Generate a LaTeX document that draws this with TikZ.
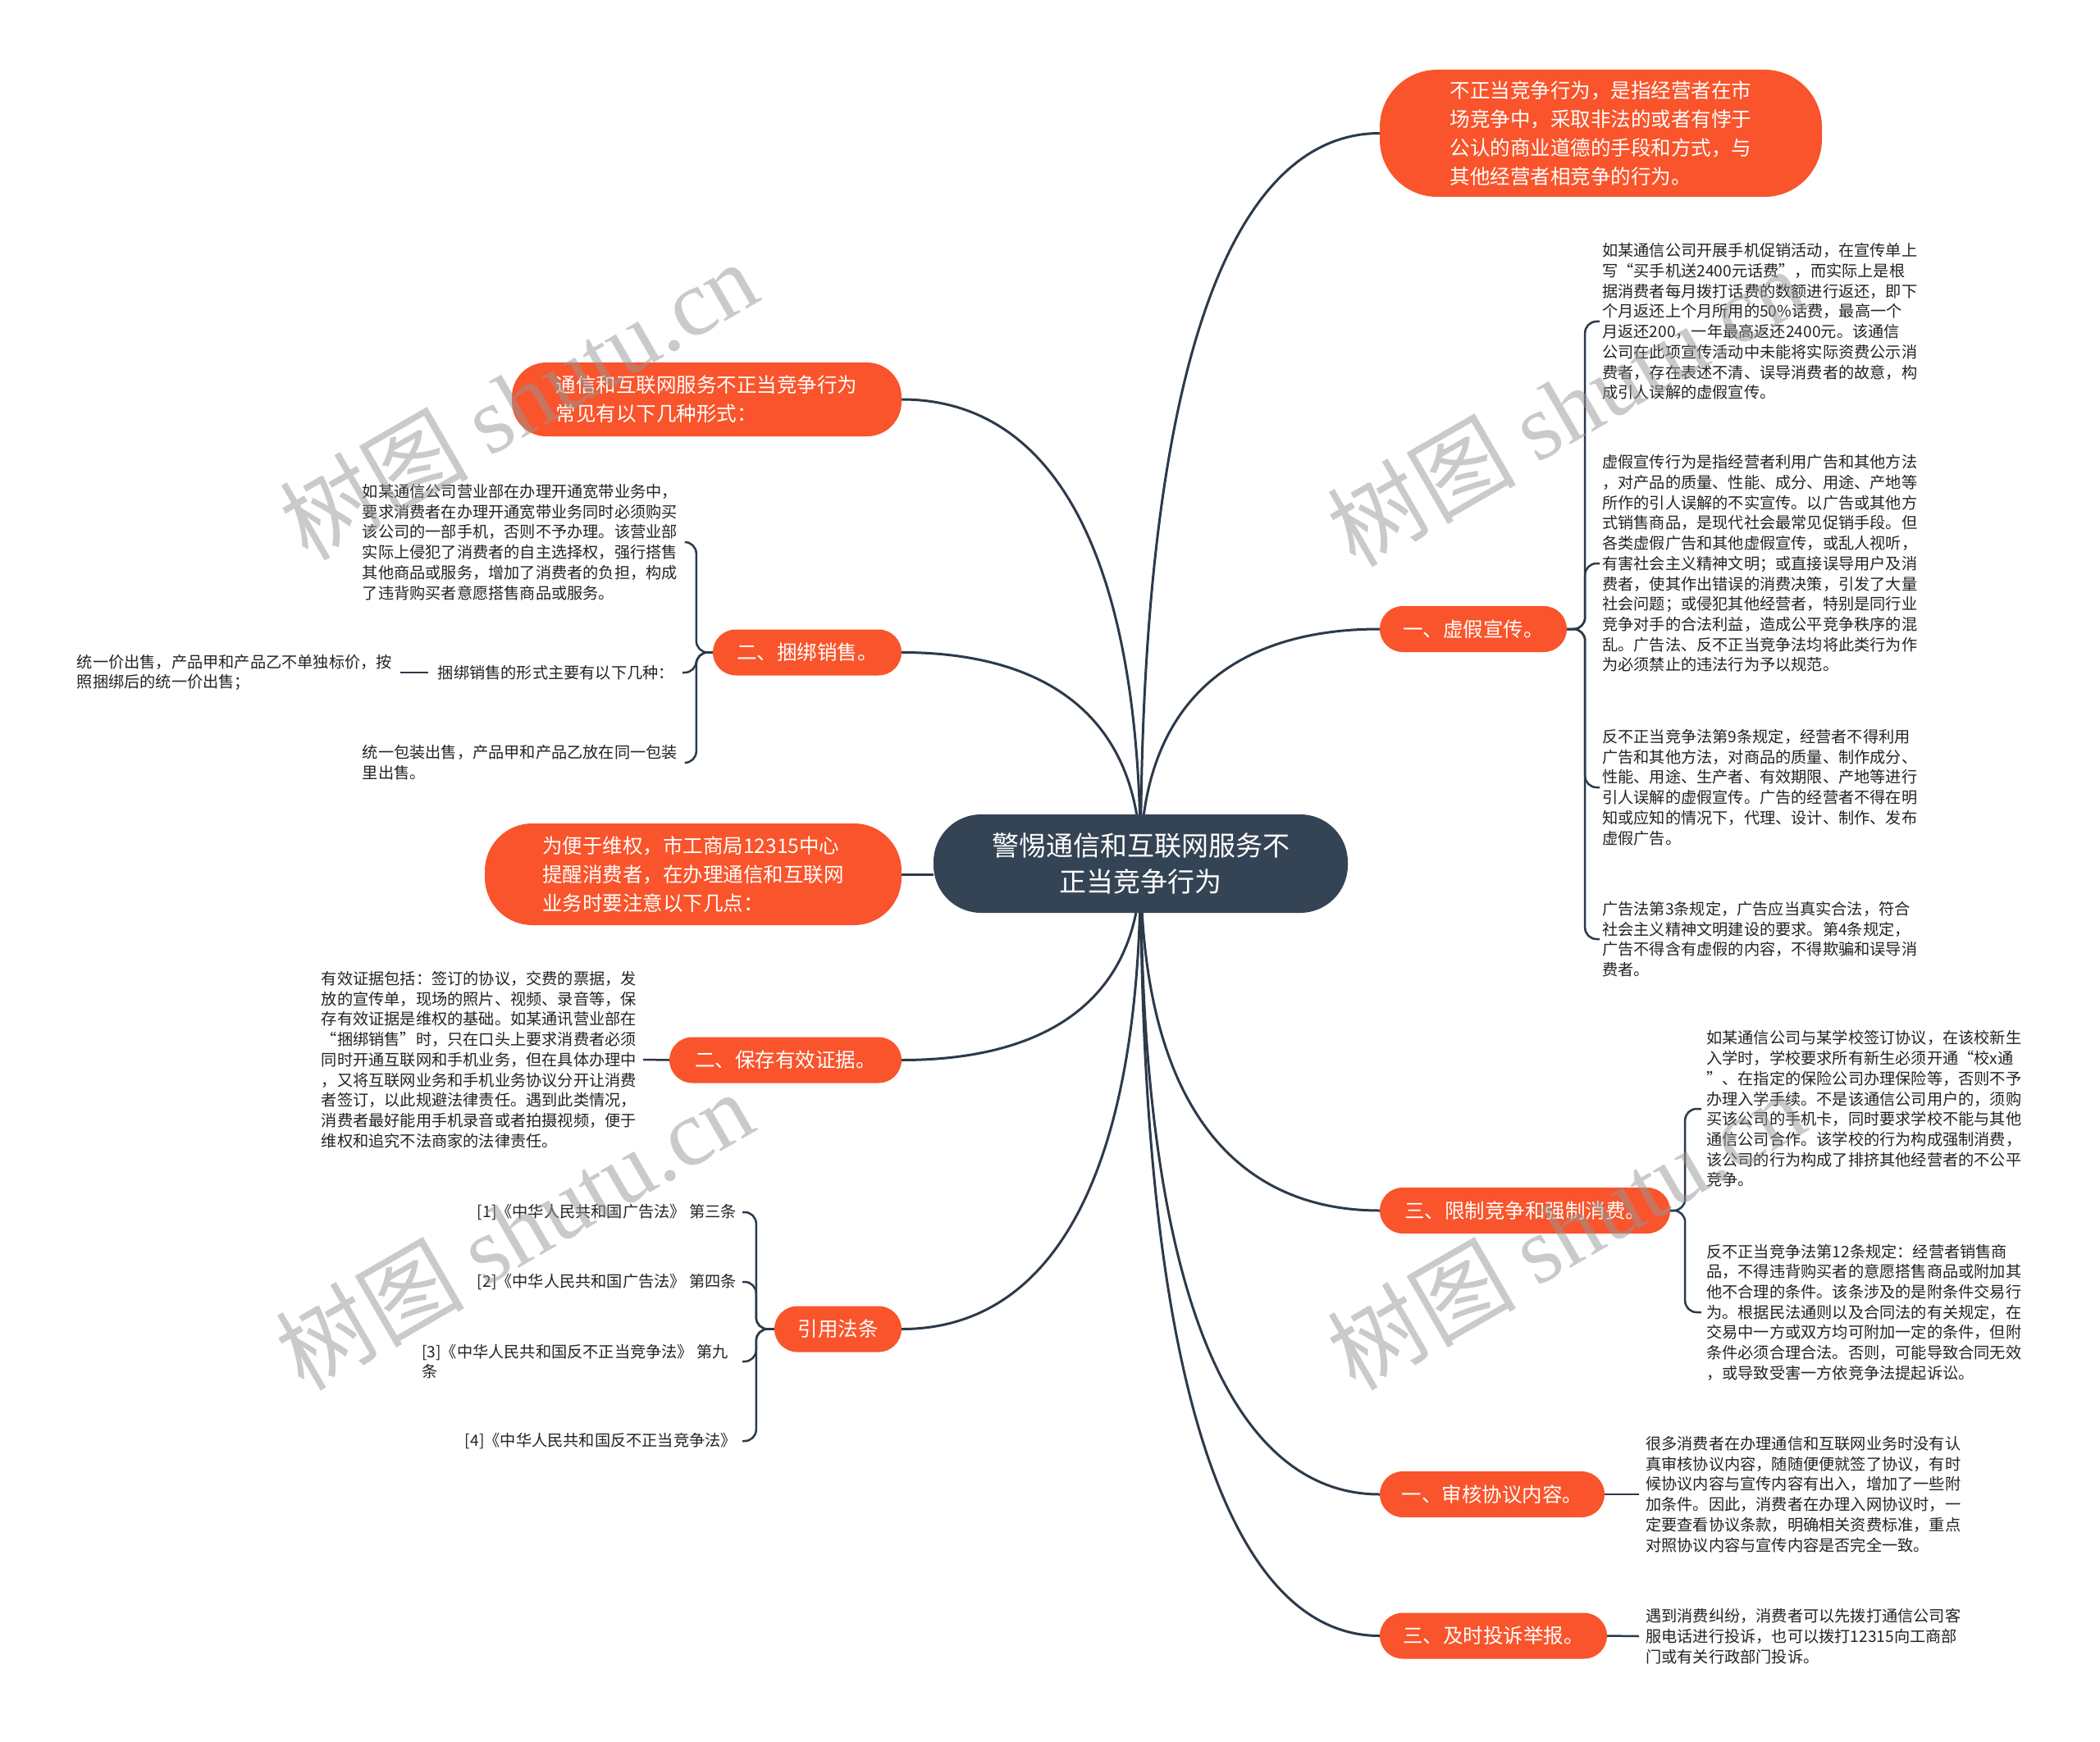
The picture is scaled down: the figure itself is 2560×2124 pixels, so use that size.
\documentclass[tikz,border=0pt]{standalone}
\usepackage{fontspec}
\setmainfont{Liberation Serif}
\newfontfamily\cjk{Noto Sans CJK SC}
\usetikzlibrary{calc}
\pgfdeclarelayer{bg}
\pgfsetlayers{bg,main}
\definecolor{orng}{RGB}{249,84,43}
\definecolor{rootc}{RGB}{52,68,84}
\definecolor{linec}{RGB}{44,58,74}
\definecolor{txt}{RGB}{35,35,35}
\definecolor{wm}{RGB}{150,150,150}
\tikzset{
 obox/.style={fill=orng, text=white, font=\cjk\fontsize{24.5}{35}\selectfont, align=left, inner sep=0pt},
 pill/.style={obox, minimum height=56pt, rounded corners=28pt},
 rootbox/.style={fill=rootc, text=white, font=\cjk\fontsize{33}{44}\selectfont, align=center, inner sep=0pt, minimum width=505pt, minimum height=120pt, rounded corners=58pt},
 ctext/.style={font=\cjk\fontsize{19.2}{24.7}\selectfont, text=txt, align=left, inner sep=0pt},
 branch/.style={draw=linec, line width=3pt, to path={.. controls ($(\tikztostart |- \tikztotarget)!0.3!(\tikztostart)$) and ($(\tikztotarget)!0.6!(\tikztostart |- \tikztotarget)$) .. (\tikztotarget)}},
 brace/.style={draw=linec, line width=2.5pt, rounded corners=14pt},
 wmark/.style={text=wm, opacity=0.5, rotate=30, anchor=south west, inner sep=0pt, font=\cjk\fontsize{115}{115}\selectfont}
}
\begin{document}
\begin{tikzpicture}[x=1pt,y=-1pt]
\useasboundingbox (0,0) rectangle (2560,2124);
\begin{pgfonlayer}{bg}
\fill[white] (0,0) rectangle (2560,2124);
\end{pgfonlayer}

% root
\node[rootbox] (root) at (1390.5,1053) {警惕通信和互联网服务不\\正当竞争行为};

% right main boxes
\node[obox, minimum width=539pt, minimum height=155pt, rounded corners=70pt] (T1) at (1951.5,162.5) {不正当竞争行为，是指经营者在市\\场竞争中，采取非法的或者有悖于\\公认的商业道德的手段和方式，与\\其他经营者相竞争的行为。};
\node[pill, minimum width=228pt] (R1) at (1796,767) {一、虚假宣传。};
\node[pill, minimum width=354pt] (R2) at (1859,1476) {三、限制竞争和强制消费。};
\node[pill, minimum width=274pt] (R3) at (1819,1822) {一、审核协议内容。};
\node[pill, minimum width=277pt] (R4) at (1820.5,1994.5) {三、及时投诉举报。};

% left main boxes
\node[obox, minimum width=475pt, minimum height=90pt, rounded corners=42pt] (L1) at (861.5,487) {通信和互联网服务不正当竞争行为\\常见有以下几种形式：};
\node[pill, minimum width=230pt] (L2) at (984,795.5) {二、捆绑销售。};
\node[obox, minimum width=508pt, minimum height=124pt, rounded corners=58pt] (L3) at (845,1066) {为便于维权，市工商局12315中心\\提醒消费者，在办理通信和互联网\\业务时要注意以下几点：};
\node[pill, minimum width=283pt] (L4) at (957.5,1292.5) {二、保存有效证据。};
\node[pill, minimum width=155pt] (L5) at (1021.5,1620.5) {引用法条};

% R1 children
\node[ctext, anchor=west] (r1a) at (1953,392) {如某通信公司开展手机促销活动，在宣传单上\\写“买手机送2400元话费”，而实际上是根\\据消费者每月拨打话费的数额进行返还，即下\\个月返还上个月所用的50\%话费，最高一个\\月返还200，一年最高返还2400元。该通信\\公司在此项宣传活动中未能将实际资费公示消\\费者，存在表述不清、误导消费者的故意，构\\成引人误解的虚假宣传。};
\node[ctext, anchor=west] (r1b) at (1953,687) {虚假宣传行为是指经营者利用广告和其他方法\\，对产品的质量、性能、成分、用途、产地等\\所作的引人误解的不实宣传。以广告或其他方\\式销售商品，是现代社会最常见促销手段。但\\各类虚假广告和其他虚假宣传，或乱人视听，\\有害社会主义精神文明；或直接误导用户及消\\费者，使其作出错误的消费决策，引发了大量\\社会问题；或侵犯其他经营者，特别是同行业\\竞争对手的合法利益，造成公平竞争秩序的混\\乱。广告法、反不正当竞争法均将此类行为作\\为必须禁止的违法行为予以规范。};
\node[ctext, anchor=west] (r1c) at (1953,960) {反不正当竞争法第9条规定，经营者不得利用\\广告和其他方法，对商品的质量、制作成分、\\性能、用途、生产者、有效期限、产地等进行\\引人误解的虚假宣传。广告的经营者不得在明\\知或应知的情况下，代理、设计、制作、发布\\虚假广告。};
\node[ctext, anchor=west] (r1d) at (1953,1145) {广告法第3条规定，广告应当真实合法，符合\\社会主义精神文明建设的要求。第4条规定，\\广告不得含有虚假的内容，不得欺骗和误导消\\费者。};

% R2 children
\node[ctext, anchor=west] (r2a) at (2080,1352) {如某通信公司与某学校签订协议，在该校新生\\入学时，学校要求所有新生必须开通“校x通\\”、在指定的保险公司办理保险等，否则不予\\办理入学手续。不是该通信公司用户的，须购\\买该公司的手机卡，同时要求学校不能与其他\\通信公司合作。该学校的行为构成强制消费，\\该公司的行为构成了排挤其他经营者的不公平\\竞争。};
\node[ctext, anchor=west] (r2b) at (2080,1600) {反不正当竞争法第12条规定：经营者销售商\\品，不得违背购买者的意愿搭售商品或附加其\\他不合理的条件。该条涉及的是附条件交易行\\为。根据民法通则以及合同法的有关规定，在\\交易中一方或双方均可附加一定的条件，但附\\条件必须合理合法。否则，可能导致合同无效\\，或导致受害一方依竞争法提起诉讼。};

% R3, R4 children
\node[ctext, anchor=west] (r3a) at (2006,1822) {很多消费者在办理通信和互联网业务时没有认\\真审核协议内容，随随便便就签了协议，有时\\候协议内容与宣传内容有出入，增加了一些附\\加条件。因此，消费者在办理入网协议时，一\\定要查看协议条款，明确相关资费标准，重点\\对照协议内容与宣传内容是否完全一致。};
\node[ctext, anchor=west] (r4a) at (2006,1995) {遇到消费纠纷，消费者可以先拨打通信公司客\\服电话进行投诉，也可以拨打12315向工商部\\门或有关行政部门投诉。};

% L2 children
\node[ctext, anchor=east] (l2a) at (826,661) {如某通信公司营业部在办理开通宽带业务中，\\要求消费者在办理开通宽带业务同时必须购买\\该公司的一部手机，否则不予办理。该营业部\\实际上侵犯了消费者的自主选择权，强行搭售\\其他商品或服务，增加了消费者的负担，构成\\了违背购买者意愿搭售商品或服务。};
\node[ctext, anchor=east] (l2b) at (822,820) {捆绑销售的形式主要有以下几种：};
\node[ctext, anchor=east] (l2c) at (478,820) {统一价出售，产品甲和产品乙不单独标价，按\\照捆绑后的统一价出售；};
\node[ctext, anchor=east] (l2d) at (826,930) {统一包装出售，产品甲和产品乙放在同一包装\\里出售。};

% L4 child
\node[ctext, anchor=east] (l4a) at (776,1292) {有效证据包括：签订的协议，交费的票据，发\\放的宣传单，现场的照片、视频、录音等，保\\存有效证据是维权的基础。如某通讯营业部在\\“捆绑销售”时，只在口头上要求消费者必须\\同时开通互联网和手机业务，但在具体办理中\\，又将互联网业务和手机业务协议分开让消费\\者签订，以此规避法律责任。遇到此类情况，\\消费者最好能用手机录音或者拍摄视频，便于\\维权和追究不法商家的法律责任。};

% L5 children
\node[ctext, anchor=east] (ref1) at (898,1478) {[1]《中华人民共和国广告法》 第三条};
\node[ctext, anchor=east] (ref2) at (898,1563) {[2]《中华人民共和国广告法》 第四条};
\node[ctext, anchor=east] (ref3) at (888,1660) {[3]《中华人民共和国反不正当竞争法》 第九\\条};
\node[ctext, anchor=east] (ref4) at (898,1757) {[4]《中华人民共和国反不正当竞争法》};

\begin{pgfonlayer}{bg}
% main branches
\draw[branch] (root.center) to (T1.west);
\draw[branch] (root.center) to (R1.west);
\draw[branch] (root.center) to (R2.west);
\draw[branch] (root.center) to (R3.west);
\draw[branch] (root.center) to (R4.west);
\draw[branch] (root.center) to (L1.east);
\draw[branch] (root.center) to (L2.east);
\draw[branch] (root.center) to (L4.east);
\draw[branch] (root.center) to (L5.east);
\draw[draw=linec, line width=3pt] (L3.east) -- (L3.east -| root.west);
% R1 brace
\draw[brace] (R1.east) -- ++(22,0) |- ([xshift=-3pt]r1a.west);
\draw[brace] (R1.east) -- ++(22,0) |- ([xshift=-3pt]r1b.west);
\draw[brace] (R1.east) -- ++(22,0) |- ([xshift=-3pt]r1c.west);
\draw[brace] (R1.east) -- ++(22,0) |- ([xshift=-3pt]r1d.west);
% R2 brace
\draw[brace] (R2.east) -- ++(18,0) |- ([xshift=-6pt]r2a.west);
\draw[brace] (R2.east) -- ++(18,0) |- ([xshift=-6pt]r2b.west);
% R3, R4
\draw[brace] (R3.east) -- ([xshift=-8pt]r3a.west);
\draw[brace] (R4.east) -- ([xshift=-8pt]r4a.west);
% L2 brace
\draw[brace] (L2.west) -- ++(-20,0) |- ([xshift=10pt]l2a.east);
\draw[brace] (L2.west) -- ++(-20,0) |- ([xshift=10pt]l2b.east);
\draw[brace] (L2.west) -- ++(-20,0) |- ([xshift=10pt]l2d.east);
\draw[brace] ([xshift=10pt]l2c.east) -- ([xshift=-12pt]l2b.west);
% L4
\draw[brace] (L4.west) -- ([xshift=8pt]l4a.east);
% L5 brace
\draw[brace] (L5.west) -- ++(-22,0) |- ([xshift=7pt]ref1.east);
\draw[brace] (L5.west) -- ++(-22,0) |- ([xshift=7pt]ref2.east);
\draw[brace] (L5.west) -- ++(-22,0) |- ([xshift=17pt]ref3.east);
\draw[brace] (L5.west) -- ++(-22,0) |- ([xshift=7pt]ref4.east);
\end{pgfonlayer}

% watermarks
\node[wmark] (wm1) at (380,694) {树图 {\rmfamily shutu.cn}};
\node[wmark] (wm2) at (1657,702) {树图 {\rmfamily shutu.cn}};
\node[wmark] (wm3) at (375,1706) {树图 {\rmfamily shutu.cn}};
\node[wmark] (wm4) at (1657,1706) {树图 {\rmfamily shutu.cn}};
\end{tikzpicture}
\end{document}
